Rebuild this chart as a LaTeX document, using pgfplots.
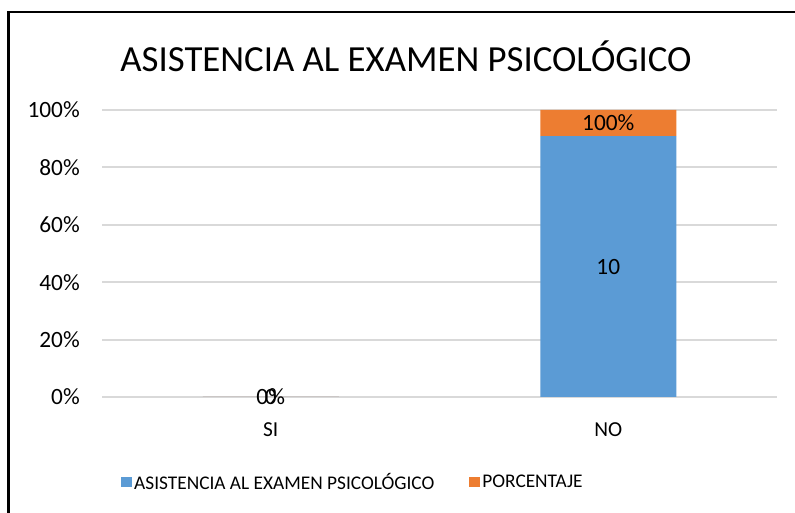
\documentclass[border=0pt]{standalone}
\usepackage{fontspec}
\setmainfont{Carlito}
\usepackage{pgfplots}
\pgfplotsset{compat=1.18}

\definecolor{serieA}{HTML}{5B9BD5}
\definecolor{serieB}{HTML}{ED7D31}
\definecolor{rejilla}{HTML}{D9D9D9}

\begin{document}
\begin{tikzpicture}
  % canvas 795x513 px, 1px = 0.75pt
  \useasboundingbox (0,0) rectangle (596.25pt,384.75pt);
  \fill[white] (0,0) rectangle (596.25pt,384.75pt);
  \draw[line width=2pt] (6.5pt,-5pt) -- (6.5pt,375.75pt) -- (600pt,375.75pt);

  \node[font=\fontsize{27.6}{32}\selectfont, anchor=center] at (304.5pt,342.75pt)
    {ASISTENCIA AL EXAMEN PSICOLÓGICO};

  \begin{axis}[
      at={(76.5pt,87pt)}, anchor=south west,
      scale only axis,
      width=506.25pt, height=215.25pt,
      ybar stacked,
      stacked ignores zero=false,
      bar width=102pt,
      xmin=-0.5, xmax=1.5,
      ymin=0, ymax=100,
      enlarge x limits=false, enlarge y limits=false,
      axis line style={draw=none},
      major tick length=0pt,
      ymajorgrids,
      grid style={draw=rejilla, line width=1.6pt},
      xtick={0,1}, xticklabels={SI,NO},
      ytick={0,20,...,100},
      yticklabel={\pgfmathprintnumber{\tick}\%},
      /pgf/number format/assume math mode=true,
      xticklabel style={font=\fontsize{16}{19}\selectfont, anchor=north, inner sep=0pt, yshift=-19pt},
      yticklabel style={font=\fontsize{17.5}{20}\selectfont, inner sep=0pt, xshift=-16.5pt},
      point meta=explicit symbolic,
      nodes near coords,
      % stacked bars already put the labels in the middle of each segment
      every node near coord/.append style={
        anchor=center, font=\fontsize{17.5}{20}\selectfont, black},
      legend columns=2,
      legend style={
        at={(0.372,-0.296)}, anchor=center, draw=none,
        font=\fontsize{14.5}{17}\selectfont,
        /tikz/every even column/.append style={column sep=24pt}},
      legend image code/.code={\fill[#1,draw=none] (0pt,-3.9pt) rectangle (8pt,3.9pt);},
    ]
    \addplot[fill=serieA, draw=none] coordinates {(0,0) [0] (1,90.91) [10]};
    \addplot[fill=serieB, draw=none] coordinates {(0,0) [0\%] (1,9.09) [100\%]};
    \legend{ASISTENCIA AL EXAMEN PSICOLÓGICO, PORCENTAJE}
  \end{axis}
\end{tikzpicture}
\end{document}
